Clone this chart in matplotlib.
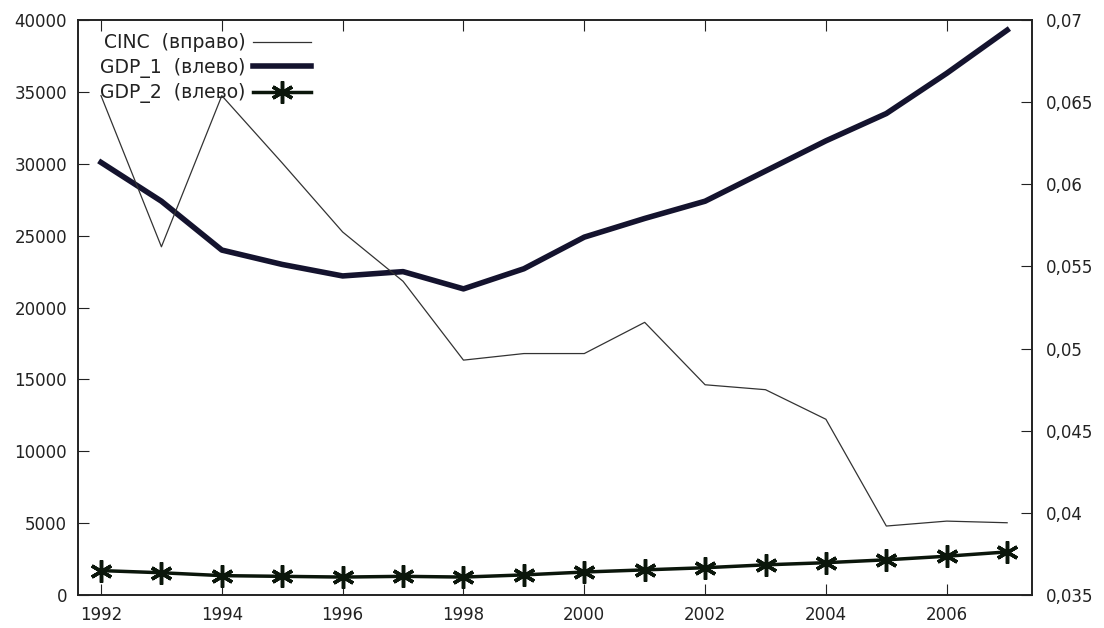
import matplotlib
matplotlib.use('Agg')
import matplotlib.pyplot as plt

years = list(range(1992, 2008))
gdp_1 = [30100, 27400, 24000, 23000, 22200, 22500, 21300, 22700,
         24900, 26200, 27400, 29500, 31600, 33500, 36300, 39300]
gdp_2 = [1700, 1550, 1350, 1300, 1250, 1300, 1250, 1400,
         1600, 1750, 1900, 2100, 2250, 2450, 2700, 3000]
cinc = [0.0654, 0.0562, 0.0654, 0.0613, 0.0571, 0.0541, 0.0493, 0.0497,
        0.0497, 0.0516, 0.0478, 0.0475, 0.0457, 0.0392, 0.0395, 0.0394]

left_ticks = list(range(0, 40001, 5000))
right_ticks = [0.035, 0.04, 0.045, 0.05, 0.055, 0.06, 0.065, 0.07]
right_labels = ['0,035', '0,04', '0,045', '0,05', '0,055', '0,06', '0,065', '0,07']
x_ticks = list(range(1992, 2007, 2))

plt.rcParams['font.family'] = ['DejaVu Sans']
fig = plt.figure(figsize=(11.04, 6.28), dpi=100)
ax = fig.add_axes([0.0707, 0.0525, 0.864, 0.9155])
ax2 = ax.twinx()

# CINC на правой оси
l1, = ax2.plot(years, cinc, color='#333333', lw=0.9, label='CINC  (вправо)')
l2, = ax.plot(years, gdp_1, color='#14132e', lw=4, label='GDP_1  (влево)')
l3, = ax.plot(years, gdp_2, color='#0b160b', lw=2.5, marker=(6, 2, 0),
              markersize=16, markeredgewidth=2.5, label='GDP_2  (влево)')

ax.set_xlim(1991.62, 2007.41)
ax.set_ylim(0, 40000)
ax2.set_ylim(0.035, 0.07)
ax.set_xticks(x_ticks)
ax.set_yticks(left_ticks)
ax2.set_yticks(right_ticks)
ax2.set_yticklabels(right_labels)

ax.tick_params(axis='x', direction='in', top=True, length=8, labelsize=12, pad=8,
               colors='#222222')
ax.tick_params(axis='y', direction='in', length=8, labelsize=12, pad=8,
               colors='#222222')
ax2.tick_params(axis='y', direction='in', length=8, labelsize=12, pad=10,
                colors='#222222')
for a in (ax, ax2):
    for s in a.spines.values():
        s.set_linewidth(1.2)
        s.set_color('#222222')

ax.legend(handles=[l1, l2, l3], loc='upper left', bbox_to_anchor=(0.0093, 1.0),
          frameon=False, markerfirst=False, fontsize=13.5, handlelength=3.1,
          labelspacing=0.3, handletextpad=0.4, borderaxespad=0.3,
          labelcolor='#222222')

fig.savefig('out.png')
